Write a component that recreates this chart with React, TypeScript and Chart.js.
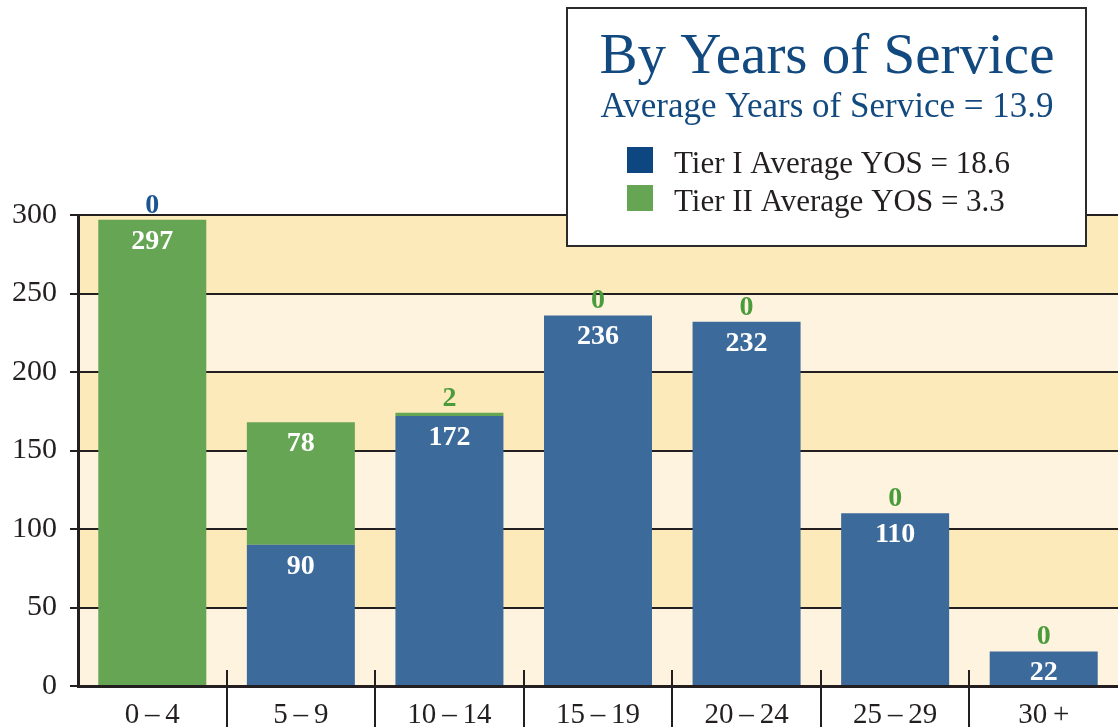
import React, { useEffect, useRef } from "react";
import { Chart, registerables } from "chart.js";

Chart.register(...registerables);

const categories = ["0\u2009–\u20094", "5\u2009–\u20099", "10\u2009–\u200914", "15\u2009–\u200919", "20\u2009–\u200924", "25\u2009–\u200929", "30\u2009+"];
const tier1 = [0, 90, 172, 236, 232, 110, 22];
const tier2 = [297, 78, 2, 0, 0, 0, 0];
const yTickValues = [0, 50, 100, 150, 200, 250, 300];
const titleText = "By Years of Service";
const subtitleText = "Average Years of Service = 13.9";
const legendLabels = ["Tier I Average YOS = 18.6", "Tier II Average YOS = 3.3"];

const FONT = "'Liberation Serif', 'Times New Roman', serif";
const INK = "#231F20";
const BLUE = "#3C6A9B";
const GREEN = "#66A554";
const BLUE_DARK = "#0E4681";
const BLUE_LABEL = "#1B5591";
const GREEN_LABEL = "#4A9B3C";
const TITLE_BLUE = "#12497F";
const BAND_DARK = "#FDEABB";
const BAND_LIGHT = "#FEF3DE";

const customPlugin = {
  id: "custom",
  beforeDraw(chart: any) {
    const { ctx, chartArea } = chart;
    const y = chart.scales.y;
    ctx.save();
    for (let i = 0; i < yTickValues.length - 1; i++) {
      const y0 = y.getPixelForValue(yTickValues[i]);
      const y1 = y.getPixelForValue(yTickValues[i + 1]);
      ctx.fillStyle = i % 2 === 0 ? BAND_LIGHT : BAND_DARK;
      ctx.fillRect(chartArea.left, y1, chartArea.right - chartArea.left, y0 - y1);
    }
    ctx.restore();
  },
  afterDatasetsDraw(chart: any) {
    const { ctx, chartArea } = chart;
    const x = chart.scales.x;
    const y = chart.scales.y;
    ctx.save();
    ctx.font = `bold 28px ${FONT}`;
    ctx.textAlign = "center";
    ctx.textBaseline = "alphabetic";
    for (let i = 0; i < categories.length; i++) {
      const cx = x.getPixelForValue(i);
      const total = tier1[i] + tier2[i];
      const topTotal = y.getPixelForValue(total);
      const top1 = y.getPixelForValue(tier1[i]);
      if (tier1[i] >= 10) {
        ctx.fillStyle = "#FFFFFF";
        ctx.fillText(String(tier1[i]), cx, top1 + 29);
      } else {
        ctx.fillStyle = BLUE_LABEL;
        ctx.fillText(String(tier1[i]), cx, topTotal - 7);
      }
      if (tier2[i] >= 10) {
        ctx.fillStyle = "#FFFFFF";
        ctx.fillText(String(tier2[i]), cx, topTotal + 29);
      } else {
        ctx.fillStyle = GREEN_LABEL;
        ctx.fillText(String(tier2[i]), cx, topTotal - 7);
      }
    }
    // category separators
    const w = (chartArea.right - chartArea.left) / categories.length;
    ctx.strokeStyle = INK;
    ctx.lineWidth = 2;
    for (let i = 1; i < categories.length; i++) {
      const sx = Math.round(chartArea.left + i * w);
      ctx.beginPath();
      ctx.moveTo(sx, chartArea.bottom - 16);
      ctx.lineTo(sx, chart.height);
      ctx.stroke();
    }
    ctx.restore();
  },
  afterDraw(chart: any) {
    const { ctx } = chart;
    ctx.save();
    // legend / title box
    const bx = 567, by = 8, bw = 519, bh = 238;
    ctx.fillStyle = "#FFFFFF";
    ctx.fillRect(bx, by, bw, bh);
    ctx.strokeStyle = "#2B2B2B";
    ctx.lineWidth = 2;
    ctx.strokeRect(bx, by, bw, bh);
    const cx = 827;
    ctx.textAlign = "center";
    ctx.textBaseline = "alphabetic";
    ctx.fillStyle = TITLE_BLUE;
    ctx.font = `57px ${FONT}`;
    ctx.fillText(titleText, cx, 73);
    ctx.font = `35px ${FONT}`;
    ctx.fillText(subtitleText, cx, 117);
    const colors = [BLUE_DARK, GREEN];
    const rows = [147, 185];
    ctx.textAlign = "left";
    ctx.font = `31px ${FONT}`;
    for (let i = 0; i < legendLabels.length; i++) {
      ctx.fillStyle = colors[i];
      ctx.fillRect(627, rows[i], 26, 26);
      ctx.fillStyle = INK;
      ctx.fillText(legendLabels[i], 674, rows[i] + 26);
    }
    ctx.restore();
  },
};

export default function App() {
  const canvasRef = useRef<HTMLCanvasElement | null>(null);

  useEffect(() => {
    const canvas = canvasRef.current;
    if (!canvas) return;
    const chart = new Chart(canvas, {
      type: "bar",
      data: {
        labels: categories,
        datasets: [
          {
            label: legendLabels[0],
            data: tier1,
            backgroundColor: BLUE,
            borderWidth: 0,
            barPercentage: 0.727,
            categoryPercentage: 1,
          },
          {
            label: legendLabels[1],
            data: tier2,
            backgroundColor: GREEN,
            borderWidth: 0,
            barPercentage: 0.727,
            categoryPercentage: 1,
          },
        ],
      },
      options: {
        animation: false,
        responsive: false,
        devicePixelRatio: 1,
        layout: { padding: { top: 215, left: 0, right: 0, bottom: 0 } },
        plugins: {
          legend: { display: false },
          tooltip: { enabled: false },
          title: { display: false },
        },
        scales: {
          x: {
            stacked: true,
            grid: { display: false, drawTicks: false },
            border: { display: true, color: INK, width: 3 },
            ticks: {
              color: INK,
              font: { family: FONT, size: 29 },
              padding: 12,
              maxRotation: 0,
            },
            afterFit: (s: any) => {
              s.height = 41;
            },
          },
          y: {
            stacked: true,
            min: 0,
            max: 300,
            ticks: {
              stepSize: 50,
              color: INK,
              font: { family: FONT, size: 30 },
              padding: 13,
            },
            grid: { color: INK, lineWidth: 2, tickLength: 8, drawTicks: true },
            border: { display: true, color: INK, width: 3 },
            afterFit: (s: any) => {
              s.width = 78;
            },
          },
        },
      },
      plugins: [customPlugin],
    });
    return () => chart.destroy();
  }, []);

  return (
    <div style={{ position: "absolute", left: 0, top: 0, width: 1118, height: 727, background: "#FFFFFF" }}>
      <canvas ref={canvasRef} width={1118} height={727} style={{ display: "block" }} />
    </div>
  );
}
